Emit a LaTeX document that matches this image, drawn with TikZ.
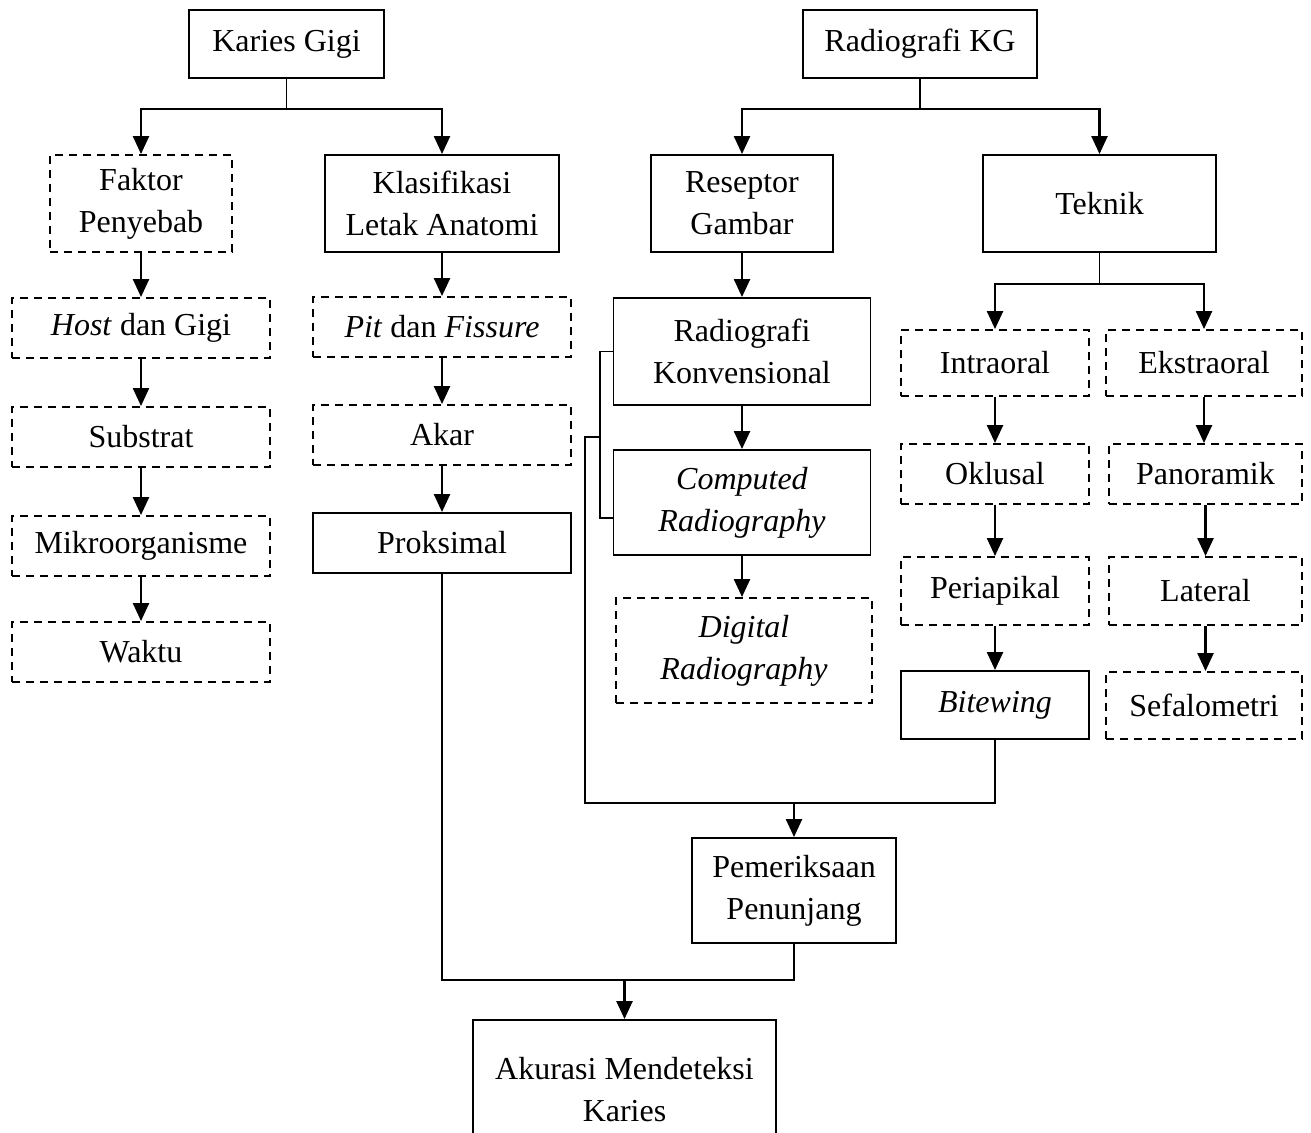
\documentclass[tikz,border=0pt]{standalone}
\usepackage{fontspec}
\setmainfont{Liberation Serif}
\usepackage{tikz}
\usetikzlibrary{arrows.meta}
\tikzset{
  box/.style={draw, line width=0.95pt, align=center, inner sep=0pt,
    font=\fontsize{16}{21}\selectfont},
  dbox/.style={box, dash pattern=on 4pt off 3pt},
  link/.style={draw, line width=0.8pt},
  arr/.style={draw, line width=1.2pt, -{Triangle[length=9pt,width=8pt]}}
}

\begin{document}
\begin{tikzpicture}[x=0.5pt, y=-0.5pt]
  \useasboundingbox (0,0) rectangle (1311,1133);

  % top level
  \node[box, minimum width=97.5pt, minimum height=34pt] (kg) at (286.5,44) {Karies Gigi};
  \node[box, minimum width=117pt, minimum height=34pt] (rkg) at (920,44) {Radiografi KG};

  \node[dbox, minimum width=91pt, minimum height=48.5pt] (faktor) at (141,203.5) {Faktor\\Penyebab};
  \node[box, minimum width=117pt, minimum height=48.5pt] (klas) at (442,203.5) {Klasifikasi\\Letak Anatomi};
  \node[box, minimum width=91pt, minimum height=48.5pt] (resep) at (742,203.5) {Reseptor\\Gambar};
  \node[box, minimum width=116.5pt, minimum height=48.5pt] (teknik) at (1099.5,203.5) {Teknik};

  % faktor penyebab
  \node[dbox, minimum width=129pt, minimum height=30pt] (host) at (141,328) {\textit{Host} dan Gigi};
  \node[dbox, minimum width=129pt, minimum height=30pt] (substrat) at (141,437) {Substrat};
  \node[dbox, minimum width=129pt, minimum height=30pt] (mikro) at (141,546) {Mikroorganisme};
  \node[dbox, minimum width=129pt, minimum height=30pt] (waktu) at (141,652) {Waktu};

  % letak anatomi
  \node[dbox, minimum width=129pt, minimum height=30pt] (pit) at (442,327) {\textit{Pit} dan \textit{Fissure}};
  \node[dbox, minimum width=129pt, minimum height=30pt] (akar) at (442,435) {Akar};
  \node[box, minimum width=129pt, minimum height=30pt] (proks) at (442,543) {Proksimal};

  % reseptor
  \node[box, minimum width=128.5pt, minimum height=53.5pt] (konv) at (742,351.5) {Radiografi\\Konvensional};
  \node[box, minimum width=128.5pt, minimum height=52.5pt] (comp) at (742,502.5) {\textit{Computed}\\\textit{Radiography}};
  \node[dbox, minimum width=128pt, minimum height=52.5pt] (digi) at (744,650.5) {\textit{Digital}\\\textit{Radiography}};

  % teknik
  \node[dbox, minimum width=94pt, minimum height=33pt] (intra) at (995,363) {Intraoral};
  \node[dbox, minimum width=98pt, minimum height=33pt] (ekstra) at (1204,363) {Ekstraoral};
  \node[dbox, minimum width=94pt, minimum height=30pt] (oklusal) at (995,474) {Oklusal};
  \node[dbox, minimum width=96.5pt, minimum height=30pt] (panor) at (1205.5,474) {Panoramik};
  \node[dbox, minimum width=94pt, minimum height=34pt] (peri) at (995,591) {Periapikal};
  \node[dbox, minimum width=96.5pt, minimum height=34pt] (lateral) at (1205.5,591) {Lateral};
  \node[box, minimum width=94pt, minimum height=34pt] (bite) at (995,705) {\textit{Bitewing}};
  \node[dbox, minimum width=98pt, minimum height=33.5pt] (sefalo) at (1204,705.5) {Sefalometri};

  % bottom
  \node[box, minimum width=102pt, minimum height=52.5pt] (periksa) at (794,890.5) {Pemeriksaan\\Penunjang};
  \node[box, minimum width=151.5pt, minimum height=70pt] (akurasi) at (624.5,1090) {Akurasi Mendeteksi\\Karies};

  \coordinate (radmid) at (600,437);
  \coordinate (jn) at (794,803);
  \coordinate (jb) at (624.5,980);

  % branches
  \draw[link] (kg.south) -- ++(0,30);
  \draw[arr] (kg.south) ++(0,30) -| (faktor.north);
  \draw[arr] (kg.south) ++(0,30) -| (klas.north);
  \draw[link] (rkg.south) -- ++(0,30);
  \draw[arr] (rkg.south) ++(0,30) -| (resep.north);
  \draw[arr] (rkg.south) ++(0,30) -| (teknik.north);
  \draw[link] (teknik.south) -- ++(0,31);
  \draw[arr] (teknik.south) ++(0,31) -| (intra.north);
  \draw[arr] (teknik.south) ++(0,31) -| (ekstra.north);

  % chains
  \draw[arr] (faktor.south) -- (faktor.south |- host.north);
  \draw[arr] (host.south) -- (substrat.north);
  \draw[arr] (substrat.south) -- (mikro.north);
  \draw[arr] (mikro.south) -- (waktu.north);
  \draw[arr] (klas.south) -- (pit.north);
  \draw[arr] (pit.south) -- (akar.north);
  \draw[arr] (akar.south) -- (proks.north);
  \draw[arr] (resep.south) -- (konv.north);
  \draw[arr] (konv.south) -- (comp.north);
  \draw[arr] (comp.south) -- (comp.south |- digi.north);
  \draw[arr] (intra.south) -- (oklusal.north);
  \draw[arr] (oklusal.south) -- (peri.north);
  \draw[arr] (peri.south) -- (bite.north);
  \draw[arr] (ekstra.south) -- (ekstra.south |- panor.north);
  \draw[arr] (panor.south) -- (lateral.north);
  \draw[arr] (lateral.south) -- (lateral.south |- sefalo.north);

  % bracket and joins
  \draw[link] (konv.west) -| (radmid) |- (comp.west |- 0,518);
  \draw[link] (radmid) -- ++(-15,0) |- (jn) -| (bite.south);
  \draw[arr] (jn) -- (periksa.north);
  \draw[link] (proks.south) |- (jb) -| (periksa.south);
  \draw[arr] (jb) -- (akurasi.north);
\end{tikzpicture}
\end{document}
